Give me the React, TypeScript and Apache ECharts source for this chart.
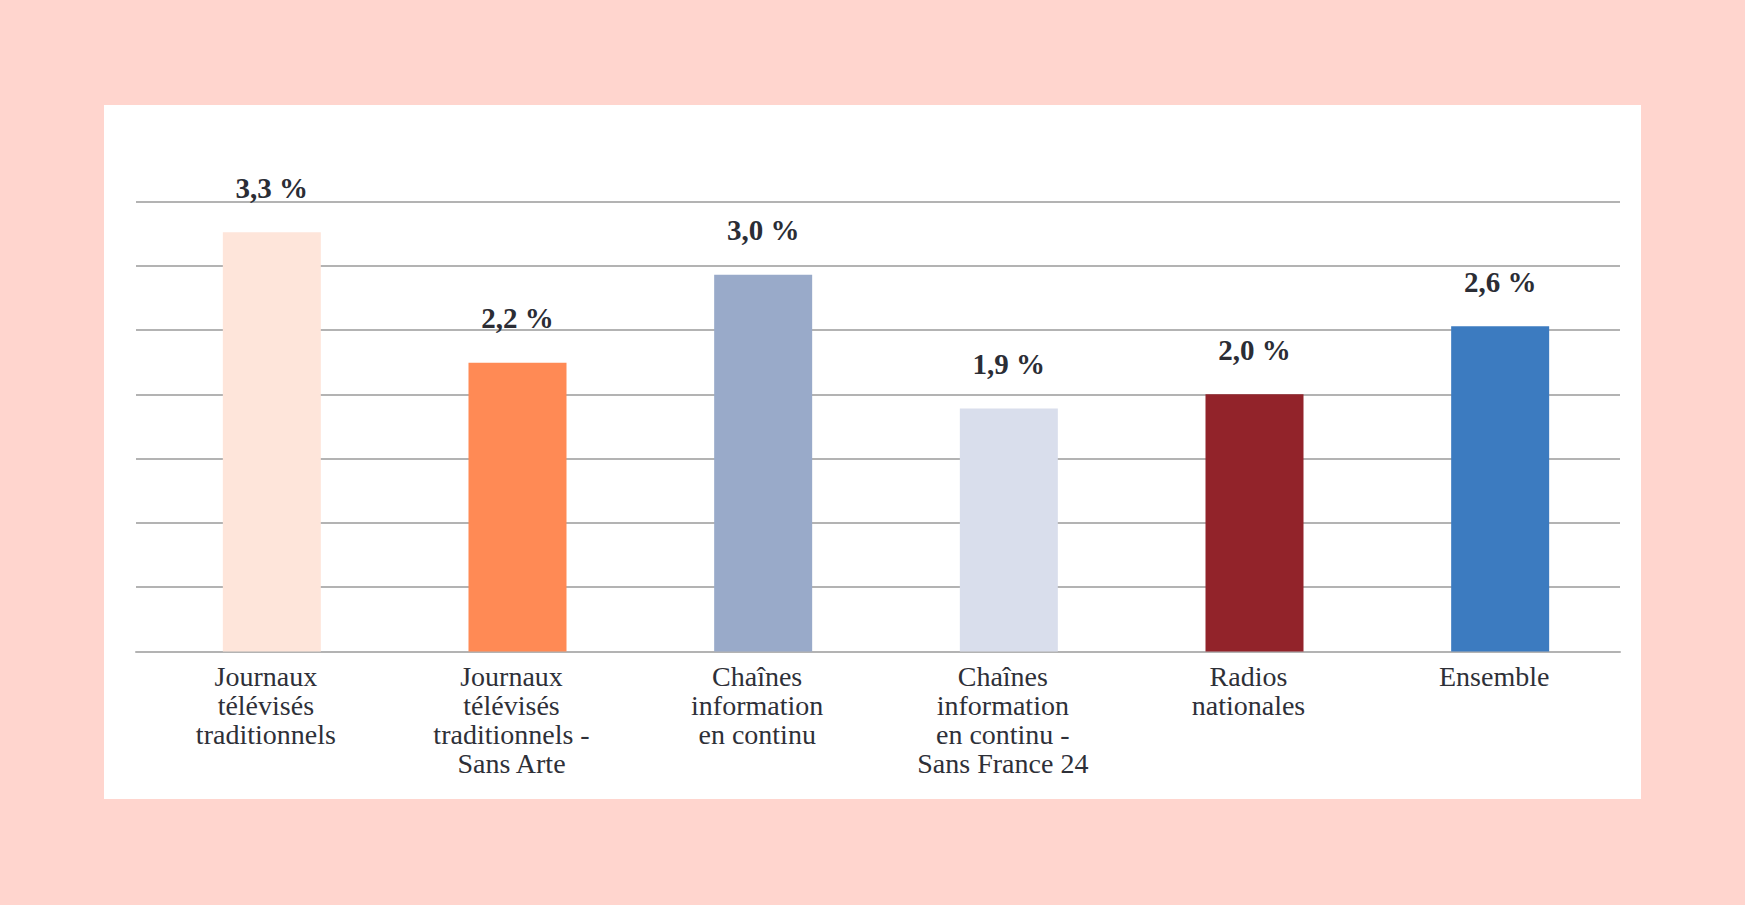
import React, { useEffect, useRef } from "react";
import * as echarts from "echarts";

const categories = [
  "Journaux\ntélévisés\ntraditionnels",
  "Journaux\ntélévisés\ntraditionnels -\nSans Arte",
  "Chaînes\ninformation\nen continu",
  "Chaînes\ninformation\nen continu -\nSans France 24",
  "Radios\nnationales",
  "Ensemble",
];
const values = [3.26, 2.245, 2.93, 1.89, 2.0, 2.53];
const valueLabels = ["3,3 %", "2,2 %", "3,0 %", "1,9 %", "2,0 %", "2,6 %"];
const barColors = ["#FEE5DA", "#FF8A55", "#99AAC9", "#D9DEEC", "#92232A", "#3C7BC0"];

const FONT = "'Liberation Serif', 'DejaVu Serif', serif";
const GRID_COLOR = "#B3B3B3";

export default function App() {
  const ref = useRef<HTMLDivElement>(null);
  useEffect(() => {
    if (!ref.current) return;
    const chart = echarts.init(ref.current, null, { renderer: "svg" });
    chart.setOption({
      animation: false,
      backgroundColor: "#FFD5CE",
      graphic: [
        {
          type: "rect",
          z: -10,
          silent: true,
          shape: { x: 104, y: 105, width: 1537, height: 694 },
          style: { fill: "#FFFFFF" },
        },
      ],
      grid: [
        { left: 136, right: 125, top: 201.5, bottom: 253.5 },
        { left: 149, right: 122, top: 201.5, bottom: 253.5 },
      ],
      xAxis: [
        {
          gridIndex: 0,
          type: "value",
          min: 0,
          max: 1,
          axisLine: { show: true, onZero: false, lineStyle: { color: GRID_COLOR, width: 2 } },
          axisTick: { show: false },
          axisLabel: { show: false },
          splitLine: { show: false },
        },
        {
          gridIndex: 1,
          type: "category",
          data: categories,
          axisLine: { show: false },
          axisTick: { show: false },
          axisLabel: {
            interval: 0,
            margin: 10,
            padding: [0, 12, 0, 0],
            color: "#2E3038",
            fontFamily: FONT,
            fontSize: 28,
            lineHeight: 29,
          },
        },
      ],
      yAxis: [
        {
          gridIndex: 0,
          type: "value",
          min: 0,
          max: 3.5,
          interval: 0.5,
          axisLabel: { show: false },
          axisLine: { show: false },
          axisTick: { show: false },
          splitLine: { show: true, lineStyle: { color: GRID_COLOR, width: 2 } },
        },
        {
          gridIndex: 1,
          type: "value",
          min: 0,
          max: 3.5,
          interval: 0.5,
          axisLabel: { show: false },
          axisLine: { show: false },
          axisTick: { show: false },
          splitLine: { show: false },
        },
      ],
      series: [
        {
          type: "bar",
          xAxisIndex: 1,
          yAxisIndex: 1,
          barWidth: 98,
          data: values.map((v, i) => ({
            value: v,
            itemStyle: { color: barColors[i] },
          })),
          label: {
            show: true,
            position: "top",
            distance: 30,
            formatter: (p: any) => valueLabels[p.dataIndex],
            color: "#2B2D35",
            fontFamily: FONT,
            fontWeight: "bold",
            fontSize: 29,
          },
        },
      ],
    });
    return () => chart.dispose();
  }, []);
  return (
    <div
      style={{ position: "fixed", left: 0, top: 0, width: 1745, height: 905 }}
    >
      <div ref={ref} style={{ width: 1745, height: 905 }} />
    </div>
  );
}
